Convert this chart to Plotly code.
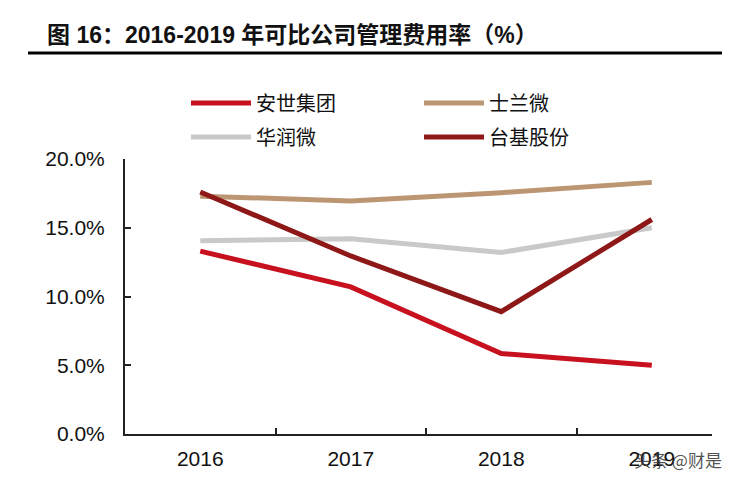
import plotly.graph_objects as go

years = ["2016", "2017", "2018", "2019"]
anshi = [13.3, 10.7, 5.85, 5.0]      # 安世集团
silan = [17.3, 16.95, 17.55, 18.3]   # 士兰微
huarun = [14.05, 14.2, 13.2, 15.0]   # 华润微
taiji = [17.6, 12.95, 8.9, 15.6]     # 台基股份

names = ["安世集团", "士兰微", "华润微", "台基股份"]
colors = ["#C8111F", "#BC9673", "#C9C9C9", "#8E1818"]
series = [anshi, silan, huarun, taiji]
legends = ["legend", "legend", "legend2", "legend2"]

FONT = "Liberation Sans, Arial, Noto Sans CJK SC"

# page body offset (browser default margin)
OX, OY = 8, 8
PL, PR, PT, PB = 125, 712, 159, 434   # plot area in screenshot pixels
PW, PH = PR - PL, PB - PT


def px(x):
    return (x - PL) / PW


def py(y):
    return (PB - y) / PH


fig = go.Figure()
for n, c, s, lg in zip(names, colors, series, legends):
    fig.add_trace(go.Scatter(x=years, y=s, name=n, mode="lines",
                             line=dict(color=c, width=5),
                             legend=lg))

legend_common = dict(orientation="h", entrywidth=158, entrywidthmode="pixels",
                     itemwidth=60, bgcolor="rgba(0,0,0,0)",
                     font=dict(family="Noto Sans CJK SC", size=20, color="#111"),
                     xanchor="left", yanchor="middle", traceorder="normal")
fig.update_layout(
    legend=dict(x=px(186), y=py(103), **legend_common),
    legend2=dict(x=px(186), y=py(137), **legend_common),
)

fig.update_layout(
    width=735, height=487,
    margin=dict(l=PL - OX, r=735 - PR + OX, t=PT - OY, b=487 - PB + OY),
    paper_bgcolor="white", plot_bgcolor="white",
    showlegend=True,
    font=dict(family=FONT, size=21, color="#111"),
    xaxis=dict(type="category", range=[-0.5, 3.4],
               showline=True, linecolor="#222", linewidth=2,
               ticks="inside", ticklen=6, tickwidth=1.5, tickcolor="#222",
               tickson="boundaries", showgrid=False, zeroline=False,
               tickfont=dict(family=FONT, size=21, color="#111"),
               ticklabelstandoff=5),
    yaxis=dict(range=[0, 20], dtick=5, tickformat=".1f", ticksuffix="%",
               showline=True, linecolor="#222", linewidth=2,
               ticks="inside", ticklen=6, tickwidth=1.5, tickcolor="#222",
               showgrid=False, zeroline=False,
               tickfont=dict(family=FONT, size=21, color="#111"),
               ticklabelstandoff=14),
)

fig.add_annotation(text="<b>图 16：2016-2019 年可比公司管理费用率（%）</b>",
                   xref="paper", yref="paper",
                   x=px(45), y=py(35),
                   xanchor="left", yanchor="middle", showarrow=False,
                   font=dict(family=FONT, size=23, color="#111"))
fig.add_shape(type="line", xref="paper", yref="paper",
              x0=px(28), x1=px(722), y0=py(53), y1=py(53),
              line=dict(color="#000", width=3))

fig.add_annotation(text="头条 @财是", xref="paper", yref="paper",
                   x=px(724), y=py(459),
                   xanchor="right", yanchor="middle", showarrow=False,
                   font=dict(family="Noto Sans CJK SC", size=17,
                             color="rgba(50,50,50,0.85)"))

fig.write_html("out.html")
